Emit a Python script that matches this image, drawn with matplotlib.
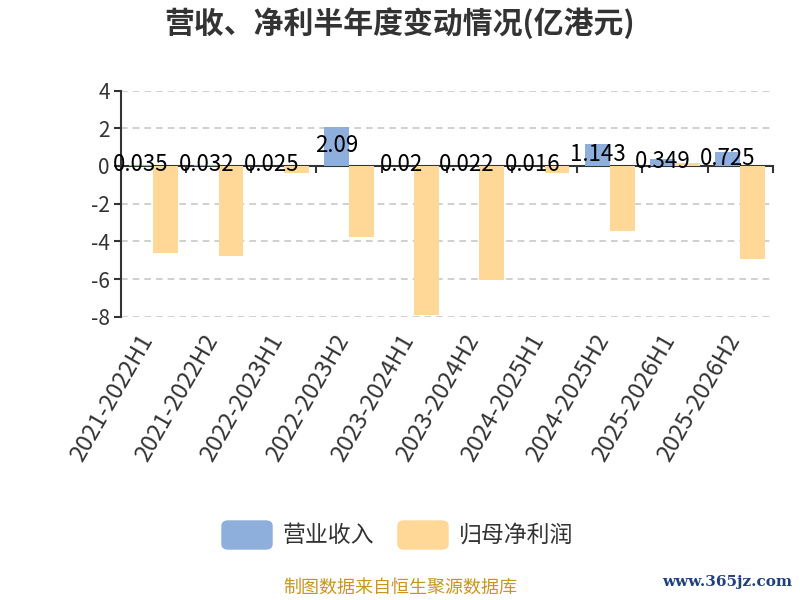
import matplotlib.pyplot as plt
from matplotlib.patches import FancyBboxPatch
from matplotlib.transforms import ScaledTranslation
import numpy as np

plt.rcParams['font.family'] = ['Noto Sans CJK SC', 'DejaVu Sans']
plt.rcParams['axes.unicode_minus'] = False

periods = ["2021-2022H1", "2021-2022H2", "2022-2023H1", "2022-2023H2",
           "2023-2024H1", "2023-2024H2", "2024-2025H1", "2024-2025H2",
           "2025-2026H1", "2025-2026H2"]
revenue = [0.035, 0.032, 0.025, 2.09, 0.02, 0.022, 0.016, 1.143, 0.349, 0.725]
revenue_labels = ["0.035", "0.032", "0.025", "2.09", "0.02", "0.022", "0.016", "1.143", "0.349", "0.725"]
net_profit = [-4.6, -4.78, -0.39, -3.79, -7.93, -6.05, -0.35, -3.43, 0.15, -4.96]

blue = "#8eaedb"
orange = "#ffd898"
text_col = "#333333"

fig = plt.figure(figsize=(8, 6), dpi=100)
ax = fig.add_axes([0.151, 0.472, 0.815, 0.377])

x = np.arange(len(periods))
w = 0.38
ax.bar(x - w / 2, revenue, w, color=blue, zorder=2)
ax.bar(x + w / 2, net_profit, w, color=orange, zorder=2)

for xi, v, s in zip(x, revenue, revenue_labels):
    ax.text(xi - w / 2, v / 2 + 0.05, s, ha="center", va="center",
            fontsize=16, color="black", zorder=4)

ax.set_xlim(-0.5, len(periods) - 0.5)
ax.set_ylim(-8, 4)
ax.set_yticks(range(-8, 5, 2))
for yv in range(-8, 5, 2):
    if yv != 0:
        ax.axhline(yv, color="#c8c8c8", lw=1.2, ls=(0, (4, 3)), zorder=1)

for side in ["top", "right", "bottom"]:
    ax.spines[side].set_visible(False)
ax.spines["left"].set_color(text_col)
ax.spines["left"].set_linewidth(1.5)
ax.tick_params(axis="y", length=5, width=1.5, color=text_col,
               labelsize=15, labelcolor=text_col, pad=3)

ax.set_xticks(x)
ax.set_xticklabels(periods, rotation=60, ha="right", va="center",
                   rotation_mode="anchor", fontsize=17, color=text_col)
ax.tick_params(axis="x", length=0, pad=14)
# nudge the rotated labels a little to the left
shift = ScaledTranslation(-4 / 72, 0, fig.dpi_scale_trans)
for lab in ax.get_xticklabels():
    lab.set_transform(lab.get_transform() + shift)

# zero line with boundary ticks
zero_pos = (0 - (-8)) / (4 - (-8))
sec = ax.secondary_xaxis(zero_pos)
sec.set_xticks(np.arange(-0.5, len(periods), 1.0))
sec.set_xticklabels([])
sec.tick_params(length=5, width=1.5, color=text_col, direction="out",
                bottom=True, top=False, labelbottom=False, labeltop=False)
for side in sec.spines:
    sec.spines[side].set_color(text_col)
    sec.spines[side].set_linewidth(1.5)

fig.text(0.5, 0.962, "营收、净利半年度变动情况(亿港元)", ha="center", va="center",
         fontsize=21.5, fontweight="bold", color=text_col)

# legend
for px, col, label in [(222, blue, "营业收入"), (398, orange, "归母净利润")]:
    patch = FancyBboxPatch((px / 800, 1 - 549 / 600), 50 / 800, 28 / 600,
                           boxstyle="round,pad=0,rounding_size=0.008",
                           transform=fig.transFigure, color=col)
    fig.patches.append(patch)
    fig.text((px + 61) / 800, 1 - 535 / 600, label, ha="left", va="center",
             fontsize=16.5, color=text_col)

fig.text(0.5, 1 - 588 / 600, "制图数据来自恒生聚源数据库", ha="center", va="center",
         fontsize=13, color="#c8961e")
fig.text(0.99, 1 - 582 / 600, "www.365jz.com", ha="right", va="center",
         fontsize=11, color="#1f3f7f", family="DejaVu Serif", fontweight="bold")

fig.savefig("out.png", dpi=100)
